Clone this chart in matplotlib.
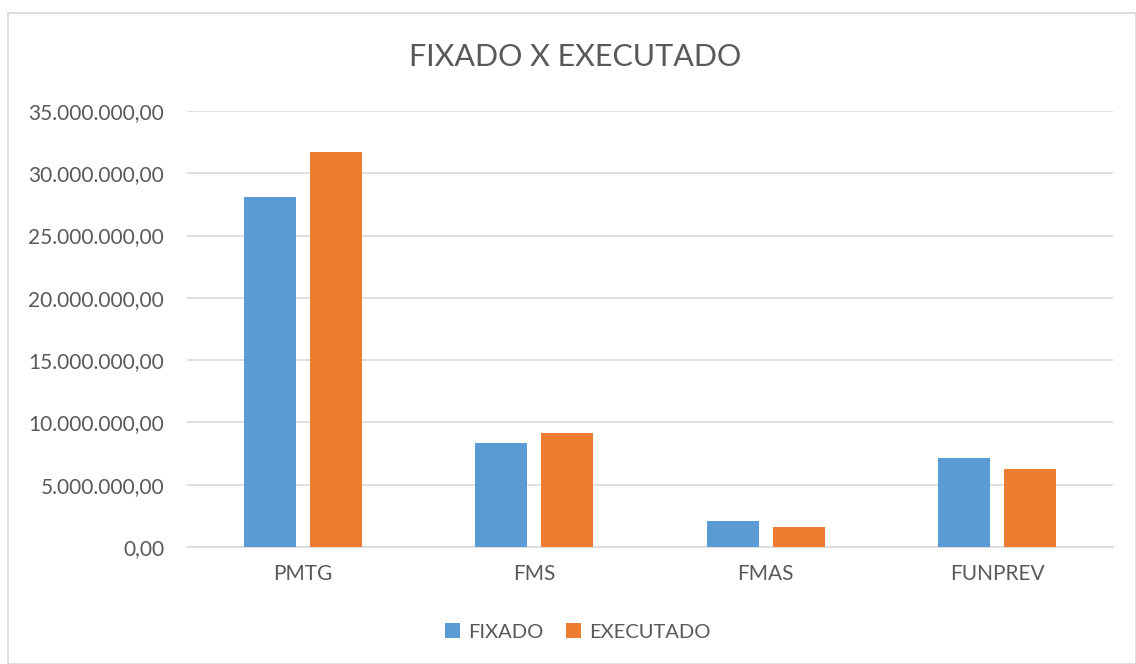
import matplotlib
matplotlib.use("Agg")
import matplotlib.pyplot as plt
from matplotlib.patches import Rectangle
import numpy as np

categories = ["PMTG", "FMS", "FMAS", "FUNPREV"]
fixado = [28.1e6, 8.37e6, 2.09e6, 7.17e6]
executado = [31.7e6, 9.17e6, 1.6e6, 6.26e6]
series_names = ["FIXADO", "EXECUTADO"]
yticks = [0, 5e6, 10e6, 15e6, 20e6, 25e6, 30e6, 35e6]

plt.rcParams['font.family'] = ['Lato', 'DejaVu Sans']

W, H = 1136, 664
fig = plt.figure(figsize=(W/100, H/100), dpi=100)
fig.patches.append(Rectangle((7.5/W, 0.5/H), (W-8)/W, (H-13)/H, transform=fig.transFigure,
                             fill=False, edgecolor="#d9d9d9", linewidth=1.2))

ax = fig.add_axes([187/W, 1-547/H, (1113-187)/W, (547-111)/H])
x = np.arange(len(categories))
bw = 0.225
off = 0.1425
ax.bar(x - off, fixado, bw, color="#5b9bd5", label=series_names[0], zorder=3)
ax.bar(x + off, executado, bw, color="#ed7d31", label=series_names[1], zorder=3)

ax.set_xlim(-0.5, len(categories) - 0.5)
ax.set_ylim(0, 35e6)
ax.set_yticks(yticks)
def fmt(v):
    s = f"{v:,.2f}"
    return s.replace(",", "X").replace(".", ",").replace("X", ".")
ax.set_yticklabels([fmt(v) for v in yticks])
ax.set_xticks(x)
ax.set_xticklabels(categories)
ax.tick_params(axis='both', length=0, labelsize=15, colors="#595959")
ax.tick_params(axis='y', pad=16.5)
ax.tick_params(axis='x', pad=12)
ax.grid(axis='y', color="#d9d9d9", linewidth=1.2, zorder=0)
for s in ["top", "right", "left"]:
    ax.spines[s].set_visible(False)
ax.spines["bottom"].set_color("#d9d9d9")
ax.spines["bottom"].set_linewidth(1.2)

fig.text(575/W, 1-57/H, "FIXADO X EXECUTADO", ha="center", va="center", fontsize=22, color="#595959")

leg = fig.legend(loc="center", bbox_to_anchor=(578/W, 1-632/H), ncol=2, frameon=False,
                 fontsize=14.5, handlelength=0.75, handleheight=0.75, handletextpad=0.4, columnspacing=1.1,
                 labelcolor="#595959")

fig.savefig("out.png", dpi=100)
